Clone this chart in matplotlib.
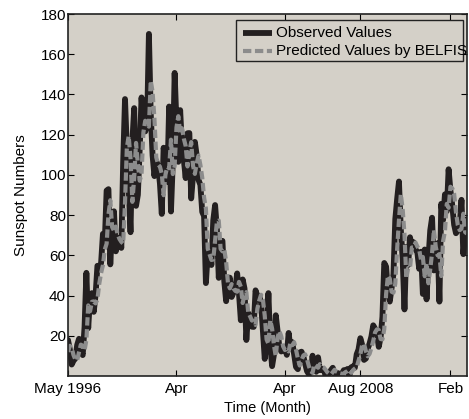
import matplotlib
matplotlib.use('Agg')
import matplotlib.pyplot as plt
from matplotlib.patches import Rectangle

plt.rcParams['font.family'] = ['Liberation Sans', 'DejaVu Sans']
plt.rcParams['lines.scale_dashes'] = False

# monthly sunspot numbers, observed (test period)
observed = [
    17.9, 13.3,
    5.7, 7.6, 8.7, 15.5, 18.5, 12.7, 10.4, 24.4, 51.3, 23.8, 39.0, 41.2,
    31.9, 40.3, 54.8, 53.4, 56.3, 70.7, 66.6, 92.2, 92.9, 55.5, 74.0, 81.9,
    62.0, 66.3, 68.8, 63.7, 106.4, 137.7, 113.5, 93.7, 71.5, 116.7, 133.2, 84.6,
    90.1, 112.9, 138.5, 125.5, 121.6, 124.9, 170.1, 130.5, 109.7, 99.4, 106.8, 104.4,
    95.6, 80.6, 113.5, 107.7, 96.6, 134.0, 81.8, 106.4, 150.7, 125.5, 106.5, 132.2,
    114.1, 107.4, 98.4, 120.7, 120.8, 88.3, 99.6, 116.4, 109.6, 97.5, 95.0, 81.6,
    79.5, 46.2, 61.5, 60.0, 55.2, 77.4, 85.0, 72.7, 48.8, 65.6, 67.2, 47.0,
    37.2, 46.0, 48.9, 39.3, 41.5, 43.2, 51.0, 40.9, 27.7, 48.0, 43.5, 17.9,
    31.3, 29.2, 24.5, 24.4, 42.6, 39.6, 39.9, 36.4, 22.1, 8.5, 18.0, 41.2,
    15.3, 4.9, 10.6, 30.2, 22.3, 13.9, 12.2, 12.9, 14.4, 10.5, 21.4, 13.6,
    16.8, 10.7, 4.5, 3.4, 11.7, 12.1, 9.7, 6.0, 2.4, 0.9, 1.7, 10.1,
    3.3, 2.1, 9.3, 2.9, 3.2, 3.4, 0.5, 0.5, 1.1, 2.9, 4.1, 0.8,
    1.5, 1.4, 0.7, 1.2, 2.9, 2.6, 3.5, 0.0, 4.3, 4.8, 4.1, 10.8,
    13.2, 18.8, 15.4, 8.0, 8.7, 13.6, 16.1, 19.6, 25.2, 23.5, 21.6, 14.5,
    19.0, 29.4, 56.2, 54.4, 41.6, 37.0, 43.9, 50.6, 78.0, 88.0, 96.7, 73.0,
    58.3, 33.1, 64.2, 55.2, 69.0, 64.5, 66.5, 63.0, 61.4, 53.3, 61.8, 40.8,
    62.9, 38.1, 57.9, 72.4, 78.7, 52.5, 57.0, 66.0, 37.0, 85.6, 77.6, 90.3,
    82.0, 102.8, 92.2, 84.7, 75.2, 71.0, 72.4, 74.6, 87.6, 60.6, 70.1, 78.0,
]

# BELFIS one-step predictions
predicted = [
    12.0, 15.0,
    14.0, 10.4, 8.2, 7.8, 11.9, 15.6, 15.0, 12.7, 17.9, 35.1, 32.2, 36.9,
    37.1, 36.1, 38.0, 45.9, 51.2, 55.1, 62.9, 65.8, 80.2, 87.4, 74.1, 72.2,
    74.3, 70.4, 68.1, 66.7, 65.8, 86.1, 113.5, 119.3, 108.4, 86.6, 98.5, 115.9,
    105.6, 97.1, 100.4, 121.1, 126.9, 126.2, 124.0, 146.8, 141.3, 128.0, 108.7, 105.2,
    104.1, 100.5, 89.9, 100.1, 104.0, 103.3, 117.5, 100.4, 104.5, 123.6, 129.2, 121.0,
    123.2, 118.0, 114.4, 104.2, 111.4, 116.3, 104.5, 100.5, 105.7, 109.6, 104.9, 98.7,
    88.8, 83.2, 63.3, 60.5, 57.7, 57.9, 67.3, 76.8, 77.3, 63.2, 62.0, 63.0,
    56.8, 46.1, 43.6, 45.7, 43.5, 42.3, 41.9, 46.8, 44.4, 36.3, 40.5, 41.7,
    31.6, 29.7, 27.6, 27.3, 25.4, 33.5, 37.5, 40.4, 38.1, 30.0, 18.2, 16.0,
    27.7, 23.6, 15.3, 9.8, 19.3, 22.3, 19.7, 14.7, 12.9, 13.5, 12.2, 16.7,
    15.3, 16.8, 13.1, 8.8, 5.2, 7.8, 10.2, 10.8, 8.3, 4.9, 2.4, 1.6,
    5.7, 5.0, 4.1, 5.9, 4.7, 4.3, 3.2, 1.9, 1.1, 0.8, 1.9, 3.1,
    2.2, 1.8, 1.3, 1.1, 1.1, 2.0, 2.4, 3.1, 1.6, 2.9, 3.7, 4.4,
    7.6, 10.7, 15.5, 16.0, 12.4, 9.8, 11.0, 13.9, 17.4, 21.7, 23.2, 22.9,
    18.4, 18.2, 23.3, 40.7, 49.9, 48.4, 41.9, 41.4, 45.9, 63.0, 77.5, 90.4,
    83.1, 70.4, 48.6, 53.7, 53.5, 63.9, 64.0, 66.4, 64.4, 62.9, 57.7, 59.2,
    49.6, 56.1, 46.1, 53.0, 61.2, 72.7, 64.3, 60.0, 60.6, 49.7, 67.1, 71.9,
    85.6, 83.6, 94.1, 93.3, 90.6, 81.5, 75.0, 72.5, 73.2, 80.7, 71.5, 70.8,
]

months = list(range(len(observed)))
tick_pos = [0, 59, 118, 159, 208]
tick_labels = ["May 1996", "Apr", "Apr", "Aug 2008", "Feb"]

bg = "#d4d0c8"
obs_color = "#231f20"
pred_color = "#8c8c8c"

fig = plt.figure(figsize=(4.69, 4.19), dpi=100)
ax = fig.add_axes([68/469, 1 - 376/419, 399/469, 362/419])
ax.set_facecolor(bg)

ax.plot(months, observed, color=obs_color, lw=4.2,
        solid_joinstyle="round", solid_capstyle="round")
ax.plot(months, predicted, color=pred_color, lw=3.0, linestyle=(0, (6, 2.6)),
        dash_joinstyle="round", dash_capstyle="butt")

ax.set_xlim(0, len(observed) - 1)
ax.set_ylim(0, 180)
ax.set_yticks(range(20, 181, 20))
ax.set_xticks(tick_pos)
ax.set_xticklabels(tick_labels)
ax.tick_params(direction="in", length=4, width=0.8, top=True, right=True,
               labelsize=11, colors="black")
ax.tick_params(axis="x", pad=4)
ax.tick_params(axis="y", pad=1.5)
for s in ax.spines.values():
    s.set_linewidth(1.2)
    s.set_color("#222222")

ax.set_xlabel("Time (Month)", fontsize=10.5, labelpad=4)
ax.set_ylabel("Sunspot Numbers", fontsize=11, labelpad=9)

# legend drawn by hand so the long label runs past the box, like the original
tr = ax.transAxes
ax.add_patch(Rectangle((0.421, 0.870), 0.569, 0.113, transform=tr,
                       facecolor=bg, edgecolor="#222222", lw=1.0, zorder=5))
ax.plot([0.439, 0.511], [0.9475, 0.9475], transform=tr, color=obs_color,
        lw=4.2, solid_capstyle="butt", zorder=6)
ax.plot([0.439, 0.511], [0.898, 0.898], transform=tr, color=pred_color,
        lw=3.0, linestyle=(0, (6, 2.6)), dash_capstyle="butt", zorder=6)
ax.text(0.521, 0.9475, "Observed Values", transform=tr, fontsize=11,
        va="center", ha="left", zorder=7, clip_on=True)
ax.text(0.521, 0.898, "Predicted Values by BELFIS", transform=tr, fontsize=11,
        va="center", ha="left", zorder=7, clip_on=True)

plt.savefig("out.png", dpi=100)
plt.close()
